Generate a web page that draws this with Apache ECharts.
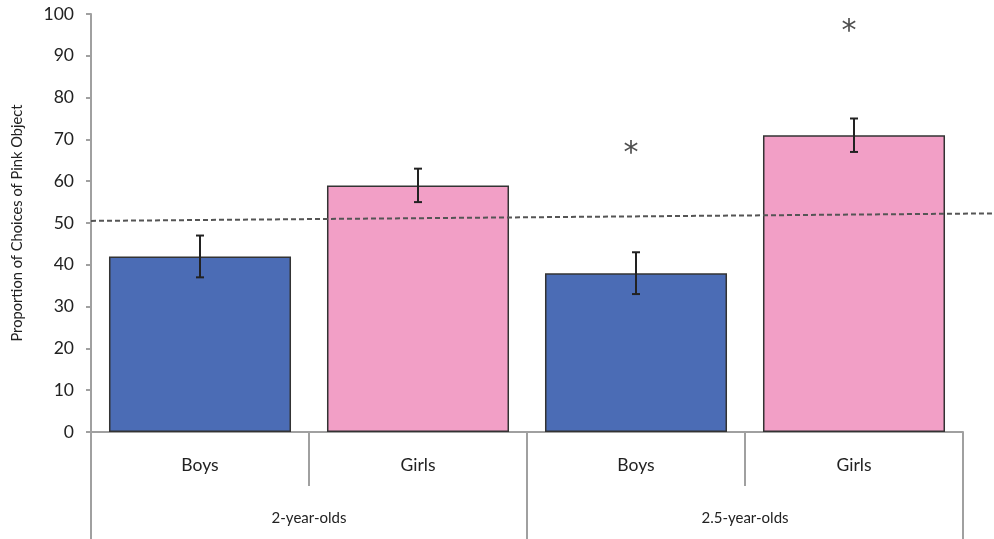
<!DOCTYPE html>
<html>
<head>
<meta charset="utf-8">
<script src="https://cdn.jsdelivr.net/npm/echarts@6/dist/echarts.min.js"></script>
<style>
  html, body { margin: 0; padding: 0; background: #fff; }
  #chart { width: 994px; height: 539px; }
</style>
</head>
<body>
<div id="chart"></div>
<script>
// Proportion of pink-object choices by sex within each age group
const categories = ['Boys', 'Girls', 'Boys', 'Girls'];
const ageGroups = ['2-year-olds', '2.5-year-olds'];
const proportions = [42, 59, 38, 71];
const errorMargins = [5, 4, 5, 4];
// Chance-level reference line (left end, right end)
const chanceLevel = [50.5, 52.3];
// Significance markers ('*') placed above bars
const significance = [null, null, 68, 97];
const yTicks = { min: 0, max: 100, interval: 10 };

const sexColors = { Boys: '#4b6cb5', Girls: '#f29fc6' };
const axisGray = '#a0a0a0';
const textColor = '#222';
const font = 'Lato';

const chart = echarts.init(document.getElementById('chart'));

const barData = proportions.map((v, i) => ({
  value: v,
  itemStyle: { color: sexColors[categories[i]] }
}));
const errorData = proportions.map((v, i) => [i, v - errorMargins[i], v + errorMargins[i]]);
const starData = significance
  .map((v, i) => (v === null ? null : [i, v]))
  .filter(d => d !== null);

chart.setOption({
  animation: false,
  textStyle: { fontFamily: font },
  grid: [
    { left: 91, right: 31, top: 14, bottom: 107 },
    { left: 91, right: 0, top: 14, bottom: 107 }
  ],
  xAxis: [
    {
      type: 'category',
      gridIndex: 0,
      position: 'bottom',
      data: categories,
      axisLine: { show: true, lineStyle: { color: axisGray, width: 2 } },
      axisTick: { show: true, interval: 0, length: 54, lineStyle: { color: axisGray, width: 2 } },
      axisLabel: { interval: 0, fontSize: 17.5, color: textColor, margin: 24, fontFamily: font }
    },
    {
      type: 'category',
      gridIndex: 0,
      position: 'bottom',
      data: ageGroups,
      axisLine: { show: false },
      axisTick: { show: true, interval: 0, length: 107, lineStyle: { color: axisGray, width: 2 } },
      axisLabel: { interval: 0, fontSize: 15, color: textColor, margin: 79, fontFamily: font }
    },
    {
      type: 'value',
      gridIndex: 1,
      min: 0,
      max: 1,
      show: false
    }
  ],
  yAxis: [
    {
      type: 'value',
      gridIndex: 0,
      min: yTicks.min,
      max: yTicks.max,
      interval: yTicks.interval,
      name: 'Proportion of Choices of Pink Object',
      nameLocation: 'middle',
      nameGap: 66,
      nameTextStyle: { fontSize: 14.7, color: textColor, fontFamily: font },
      axisLine: { show: true, lineStyle: { color: axisGray, width: 2 } },
      axisTick: { show: true, length: 5, lineStyle: { color: axisGray, width: 2 } },
      axisLabel: { fontSize: 17.5, color: textColor, margin: 17, fontFamily: font },
      splitLine: { show: false }
    },
    {
      type: 'value',
      gridIndex: 1,
      min: yTicks.min,
      max: yTicks.max,
      show: false
    }
  ],
  series: [
    {
      type: 'bar',
      xAxisIndex: 0,
      yAxisIndex: 0,
      data: barData,
      barWidth: '83.5%',
      itemStyle: { borderColor: '#333', borderWidth: 1.5 },
      z: 2
    },
    {
      type: 'line',
      xAxisIndex: 2,
      yAxisIndex: 1,
      data: [[0, chanceLevel[0]], [1, chanceLevel[1]]],
      symbol: 'none',
      lineStyle: { color: '#555', width: 2, type: [5, 3] },
      z: 3
    },
    {
      type: 'custom',
      xAxisIndex: 0,
      yAxisIndex: 0,
      data: errorData,
      encode: { x: 0, y: [1, 2] },
      z: 4,
      renderItem: function (params, api) {
        const lo = api.coord([api.value(0), api.value(1)]);
        const hi = api.coord([api.value(0), api.value(2)]);
        const cap = 4;
        const style = { stroke: '#222', lineWidth: 2 };
        return {
          type: 'group',
          children: [
            { type: 'line', shape: { x1: hi[0], y1: hi[1], x2: lo[0], y2: lo[1] }, style },
            { type: 'line', shape: { x1: hi[0] - cap, y1: hi[1], x2: hi[0] + cap, y2: hi[1] }, style },
            { type: 'line', shape: { x1: lo[0] - cap, y1: lo[1], x2: lo[0] + cap, y2: lo[1] }, style }
          ]
        };
      }
    },
    {
      type: 'scatter',
      xAxisIndex: 0,
      yAxisIndex: 0,
      data: starData,
      symbolSize: 0,
      z: 5,
      label: {
        show: true,
        position: 'inside',
        formatter: '*',
        fontSize: 30,
        color: '#222',
        fontFamily: 'DejaVu Sans',
        offset: [-5, 6]
      }
    }
  ]
});
</script>
</body>
</html>
